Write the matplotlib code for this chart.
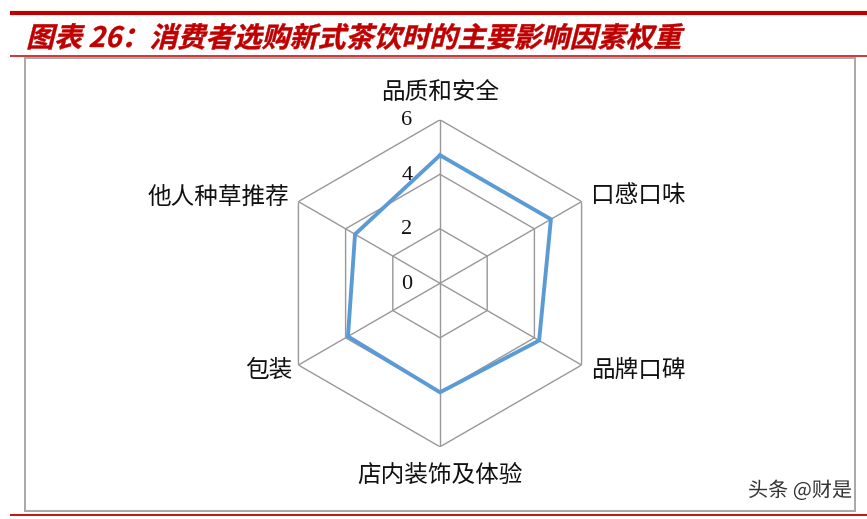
import numpy as np
import matplotlib
matplotlib.use('Agg')
import matplotlib.pyplot as plt
from matplotlib.patches import Rectangle, PathPatch
from matplotlib.textpath import TextPath
from matplotlib.font_manager import FontProperties
from matplotlib.transforms import Affine2D, IdentityTransform, offset_copy
import matplotlib.patheffects as pe

plt.rcParams['font.family'] = ['Noto Sans CJK SC', 'DejaVu Sans']

# Data
categories = ['品质和安全', '口感口味', '品牌口碑', '店内装饰及体验', '包装', '他人种草推荐']
values = [4.7, 4.7, 4.2, 4.0, 3.9, 3.6]
r_ticks = [0, 2, 4, 6]
title = '图表 26：消费者选购新式茶饮时的主要影响因素权重'
source = '头条 @财是'

W, H = 867, 519
red = '#C00000'
grid_col = '#989898'
line_col = '#5B9BD5'

fig = plt.figure(figsize=(W / 100, H / 100), dpi=100)

# Header / footer rules
def hline(y_px, x0_px, x1_px, lw, color):
    fig.add_artist(plt.Line2D([x0_px / W, x1_px / W], [1 - y_px / H, 1 - y_px / H],
                              transform=fig.transFigure, color=color, lw=lw,
                              solid_capstyle='butt'))

hline(13, 10, W, 3.0, red)
hline(56, 10, W, 1.1, red)
hline(514.5, 10, W, 1.3, red)

# Chart frame
fig.add_artist(Rectangle((25 / W, 1 - 511 / H), (855 - 25) / W, (511 - 58) / H,
                         transform=fig.transFigure, fill=False,
                         edgecolor='#a8a8a8', lw=1.4))

# Title drawn as a skewed path to mimic the italic bold heading
fp = FontProperties(family='Noto Sans CJK SC', weight='bold')
tp = TextPath((0, 0), title, size=28, prop=fp)
tr = Affine2D().skew_deg(14, 0).translate(26, H - 47) + IdentityTransform()
fig.add_artist(PathPatch(tp, transform=tr, facecolor=red, edgecolor=red, lw=0.3))

# Radar chart on polar axes
cx, cy, R = 440, 283.3, 163.5
ax = fig.add_axes([(cx - R) / W, (H - cy - R) / H, 2 * R / W, 2 * R / H], projection='polar')
ax.set_theta_zero_location('N')
ax.set_theta_direction(-1)
ax.set_ylim(0, 6)
ax.grid(False)
ax.set_xticks([])
ax.set_yticks([])
ax.spines['polar'].set_visible(False)
ax.patch.set_alpha(0)

theta = np.linspace(0, 2 * np.pi, len(categories), endpoint=False)
theta_c = np.append(theta, theta[0])

for lvl in r_ticks[1:]:
    ax.plot(theta_c, [lvl] * len(theta_c), color=grid_col, lw=1.0, zorder=1)
for t in theta:
    ax.plot([t, t], [0, 6], color=grid_col, lw=1.0, zorder=1)

ax.plot(theta_c, np.append(values, values[0]), color=line_col, lw=2.8,
        solid_joinstyle='miter', zorder=3)

# Radial tick labels
for lvl in r_ticks:
    trans = offset_copy(ax.transData, fig=fig, x=-33, y=-1, units='dots')
    ax.text(0, lvl, str(lvl), transform=trans, ha='center', va='center',
            fontsize=16, family='Liberation Serif', color='#111111', zorder=4)

# Category labels
label_pos = [
    ((0, 27), 'center'),
    ((9, 6), 'left'),
    ((9, -5), 'left'),
    ((0, -28), 'center'),
    ((-6, -5), 'right'),
    ((-9, 4), 'right'),
]
for t, lab, ((dx, dy), ha) in zip(theta, categories, label_pos):
    trans = offset_copy(ax.transData, fig=fig, x=dx, y=dy, units='dots')
    ax.text(t, 6, lab, transform=trans, ha=ha, va='center', fontsize=17,
            color='#111111')

# Watermark
fig.text(852 / W, 1 - 491 / H, source, ha='right', va='center', fontsize=14.5,
         color='#333333',
         path_effects=[pe.withStroke(linewidth=2.5, foreground='white')])

fig.savefig('out.png', dpi=100)
